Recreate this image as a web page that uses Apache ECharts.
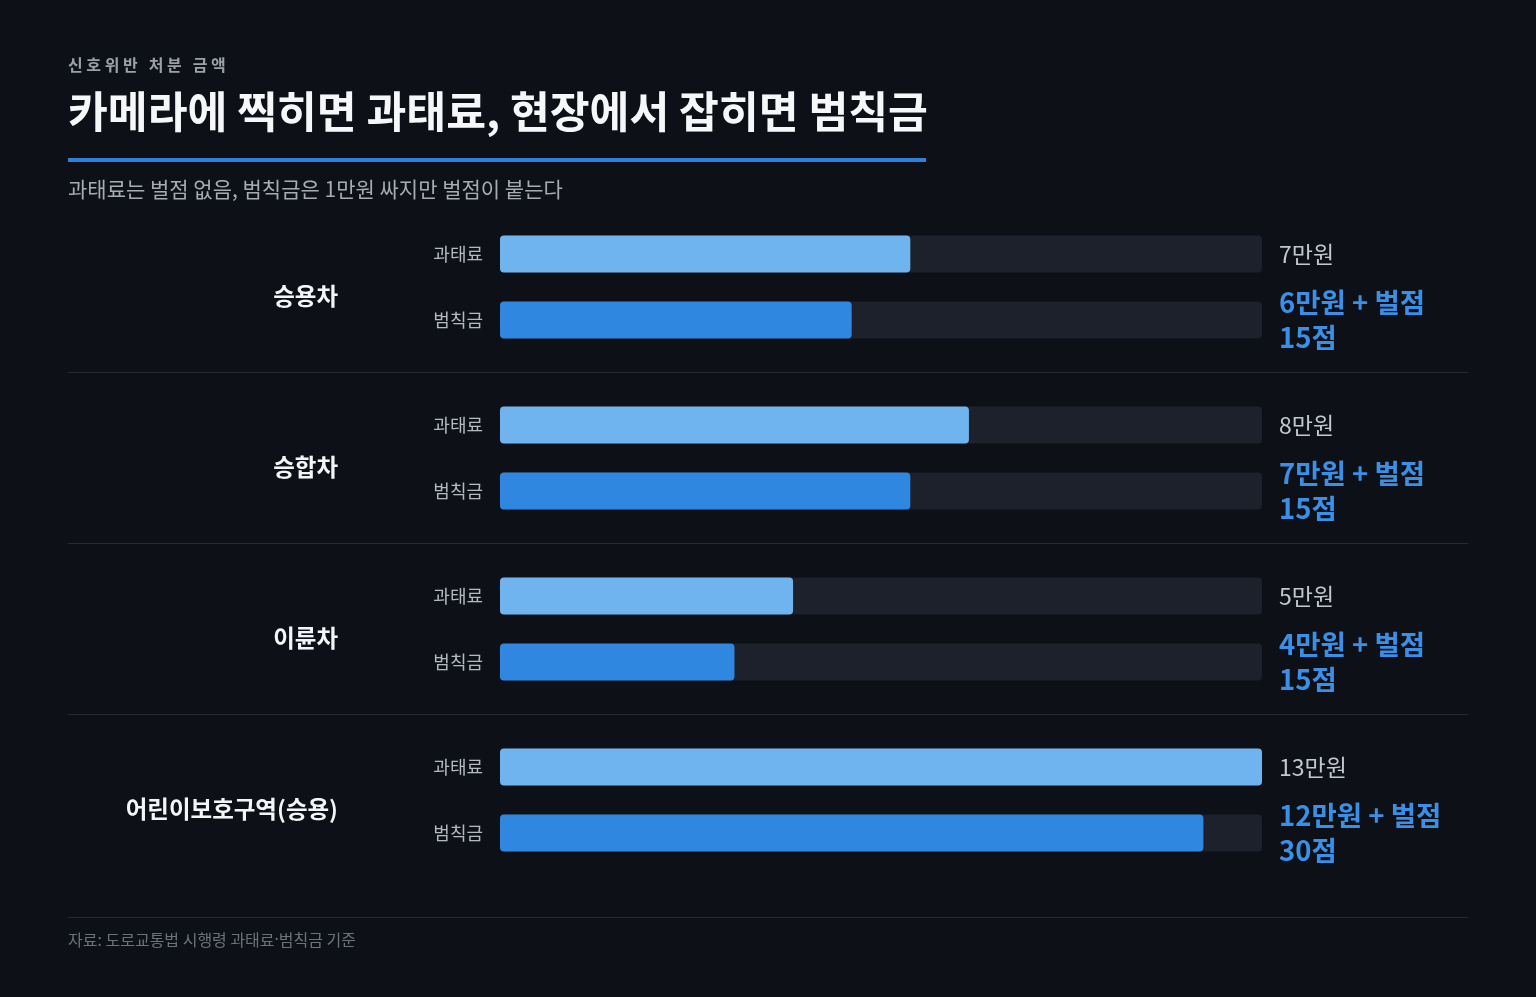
<!DOCTYPE html>
<html>
<head>
<meta charset="utf-8">
<title>신호위반 처분 금액</title>
<script src="https://cdn.jsdelivr.net/npm/echarts@6/dist/echarts.min.js"></script>
<style>
  html, body { margin: 0; padding: 0; background: #0d1017; }
  #chart { width: 1536px; height: 997px; }
</style>
</head>
<body>
<div id="chart"></div>
<script>
// data
var groups = ['승용차', '승합차', '이륜차', '어린이보호구역(승용)'];
var kinds = ['과태료', '범칙금'];
var fineValues = [7, 8, 5, 13];        // 과태료 (만원)
var penaltyValues = [6, 7, 4, 12];     // 범칙금 (만원)
var penaltyPoints = [15, 15, 15, 30];  // 벌점
var axisMax = 13;

var FONT = '"Noto Sans CJK KR", "Noto Sans", sans-serif';
var BG = '#0d1017';

var chart = echarts.init(document.getElementById('chart'));

var grids = [], xAxes = [], yAxes = [], series = [], graphics = [];

groups.forEach(function (g, i) {
	var top = 221 + i * 171;
	grids.push({ left: 500, width: 762, top: top, height: 132 });
	xAxes.push({
		gridIndex: i, type: 'value', min: 0, max: axisMax,
		show: false
	});
	yAxes.push({
		gridIndex: i, type: 'category', data: kinds, inverse: true,
		axisLine: { show: false }, axisTick: { show: false },
		axisLabel: { color: '#b4b9c2', fontSize: 18, fontFamily: FONT, margin: 17 }
	});
	// background track, carries the value labels at its end
	series.push({
		type: 'bar', xAxisIndex: i, yAxisIndex: i,
		data: [axisMax, axisMax],
		barWidth: 37, barGap: '-100%',
		silent: true,
		itemStyle: { color: '#1c212b', borderRadius: 4 },
		label: {
			show: true, position: 'right', distance: 17,
			fontFamily: FONT,
			formatter: function (p) {
				if (p.dataIndex === 0) return '{f|' + fineValues[i] + '만원}';
				return '{p|' + penaltyValues[i] + '만원 + 벌점}\n{p|' + penaltyPoints[i] + '점}';
			},
			rich: {
				f: { color: '#c3c7ce', fontSize: 23, fontFamily: FONT, lineHeight: 30 },
				p: { color: '#3a8fe6', fontSize: 27.5, fontWeight: 'bold', fontFamily: FONT, lineHeight: 35 }
			}
		},
		z: 1
	});
	series.push({
		type: 'bar', xAxisIndex: i, yAxisIndex: i,
		data: [
			{ value: fineValues[i], itemStyle: { color: '#70b4ef' } },
			{ value: penaltyValues[i], itemStyle: { color: '#2f87e0' } }
		],
		barWidth: 37,
		itemStyle: { borderRadius: 4 },
		z: 2
	});
	// group name, right aligned left of the bar labels
	graphics.push({
		type: 'text', x: 338, y: 296 + i * 171,
		style: {
			text: g, align: 'right', verticalAlign: 'middle',
			fill: '#f4f5f7', fontSize: 23.5, fontWeight: 'bold', fontFamily: FONT
		}
	});
});

// separators between groups and above the footer
[372, 543, 714, 917].forEach(function (y) {
	graphics.push({
		type: 'rect', shape: { x: 68, y: y, width: 1400, height: 1 },
		style: { fill: '#252a33' }, silent: true
	});
});

graphics.push(
	{
		type: 'text', x: 68, y: 57,
		style: { text: '신 호 위 반   처 분   금 액', fill: '#9ba1ab', fontSize: 16, fontWeight: 'bold', fontFamily: FONT }
	},
	{
		type: 'text', x: 68, y: 90,
		style: { text: '카메라에 찍히면 과태료, 현장에서 잡히면 범칙금', fill: '#f6f7f9', fontSize: 43.3, fontWeight: 'bold', fontFamily: FONT }
	},
	{
		type: 'rect', shape: { x: 68, y: 158, width: 858, height: 4 },
		style: { fill: '#2f80db' }
	},
	{
		type: 'text', x: 68, y: 179,
		style: { text: '과태료는 벌점 없음, 범칙금은 1만원 싸지만 벌점이 붙는다', fill: '#a6abb4', fontSize: 21, fontFamily: FONT }
	},
	{
		type: 'text', x: 68, y: 932,
		style: {
			text: '{t|자료: 도로교통법 시행령 과태료}{d|·}{t|범칙금 기준}',
			rich: {
				t: { fill: '#6c727c', fontSize: 16, fontFamily: FONT },
				d: { fill: '#6c727c', fontSize: 16, fontFamily: '"Noto Sans", sans-serif' }
			}
		}
	}
);

chart.setOption({
	backgroundColor: BG,
	animation: false,
	grid: grids,
	xAxis: xAxes,
	yAxis: yAxes,
	series: series,
	graphic: graphics
});

window.onresize = function () {
	chart.resize();
};
</script>
</body>
</html>
